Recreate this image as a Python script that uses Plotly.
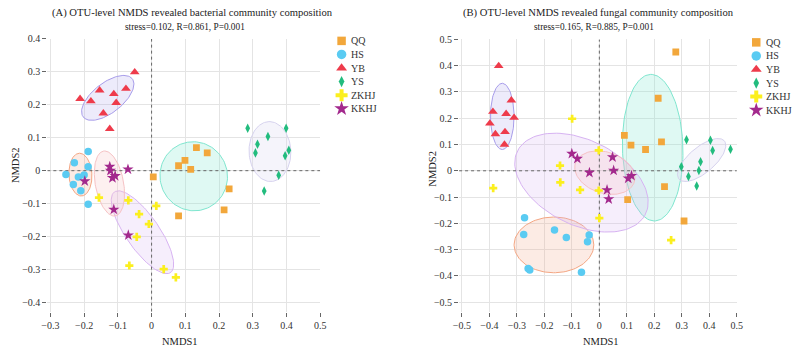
import numpy as np
import plotly.graph_objects as go

W, H = 798, 348
FONT = "Liberation Serif, Times New Roman, serif"

GROUPS = ["QQ", "HS", "YB", "YS", "ZKHJ", "KKHJ"]
SYMBOLS = ["square", "circle", "triangle-up", "diamond-tall", "cross", "star"]
COLORS = ["#F2A73B", "#5ACBF2", "#EE3B4B", "#22BC7E", "#FBEF1E", "#A3298D"]
PLOT_SIZES = [6.8, 7.5, 8.5, 6.8, 6.8, 8.5]
LEGEND_SIZES = [8.5, 9.5, 9.5, 8, 10, 11]
ELL_LINE = ["#7FE6CF", "#F3A683", "#A79CEA", "#D6D2EE", "#D7B3F2", "#F6C2C4"]
ELL_FILL = ["rgba(127,230,207,0.25)", "rgba(243,166,131,0.22)", "rgba(167,156,234,0.20)",
            "rgba(214,210,238,0.25)", "rgba(215,179,242,0.22)", "rgba(246,194,196,0.25)"]

# ---------------- Panel A: bacterial ----------------
A_XRANGE = [-0.309, 0.5]
A_YRANGE = [-0.428, 0.4]
A_QQ_X = [0.005, 0.08, 0.099, 0.116, 0.133, 0.165, 0.23, 0.215, 0.08]
A_QQ_Y = [-0.019, 0.015, 0.031, 0.004, 0.07, 0.054, -0.055, -0.119, -0.137]
A_HS_X = [-0.188, -0.229, -0.188, -0.254, -0.217, -0.2, -0.232, -0.21, -0.188]
A_HS_Y = [0.058, 0.024, 0.012, -0.012, -0.019, -0.013, -0.042, -0.061, -0.102]
A_YB_X = [-0.05, -0.212, -0.18, -0.154, -0.112, -0.076, -0.105, -0.143, -0.124]
A_YB_Y = [0.299, 0.218, 0.211, 0.244, 0.233, 0.249, 0.206, 0.174, 0.127]
A_YS_X = [0.285, 0.399, 0.345, 0.314, 0.308, 0.407, 0.396, 0.377, 0.334]
A_YS_Y = [0.129, 0.129, 0.104, 0.08, 0.054, 0.062, 0.045, -0.014, -0.062]
A_ZKHJ_X = [-0.156, -0.069, 0.014, -0.037, -0.008, -0.044, -0.066, 0.036, 0.072]
A_ZKHJ_Y = [-0.082, -0.09, -0.107, -0.132, -0.162, -0.201, -0.288, -0.299, -0.324]
A_KKHJ_X = [-0.124, -0.122, -0.116, -0.108, -0.07, -0.198, -0.112, -0.069]
A_KKHJ_Y = [0.012, 0.0, -0.022, -0.016, 0.004, -0.032, -0.118, -0.196]

# ellipse parameters (group order): centre, semi-axes, rotation (deg)
A_ELL_CX = [0.125, -0.211, -0.130, 0.351, -0.027, -0.125]
A_ELL_CY = [-0.017, -0.012, 0.221, 0.058, -0.187, -0.039]
A_ELL_A = [0.105, 0.065, 0.093, 0.091, 0.148, 0.100]
A_ELL_B = [0.100, 0.034, 0.045, 0.062, 0.050, 0.042]
A_ELL_ANG = [100, 93, 39, 92, 124, 100]

# ---------------- Panel B: fungal ----------------
B_XRANGE = [-0.51, 0.5]
B_YRANGE = [-0.536, 0.5]
B_QQ_X = [0.278, 0.214, 0.091, 0.115, 0.226, 0.168, 0.237, 0.103, 0.308]
B_QQ_Y = [0.452, 0.276, 0.135, 0.098, 0.11, 0.081, -0.06, -0.11, -0.191]
B_HS_X = [-0.272, -0.275, -0.163, -0.12, -0.037, -0.043, -0.259, -0.253, -0.065]
B_HS_Y = [-0.179, -0.242, -0.225, -0.254, -0.244, -0.27, -0.372, -0.378, -0.386]
B_YB_X = [-0.366, -0.32, -0.387, -0.339, -0.31, -0.398, -0.343, -0.378, -0.345]
B_YB_Y = [0.399, 0.268, 0.225, 0.217, 0.202, 0.18, 0.148, 0.14, 0.1]
B_YS_X = [0.317, 0.404, 0.412, 0.477, 0.368, 0.298, 0.362, 0.324, 0.354]
B_YS_Y = [0.118, 0.116, 0.077, 0.082, 0.034, 0.015, 0.001, -0.022, -0.058]
B_ZKHJ_X = [-0.099, -0.002, -0.143, -0.142, -0.07, -0.002, -0.386, 0.0, 0.261]
B_ZKHJ_Y = [0.198, 0.078, 0.02, -0.044, -0.073, -0.075, -0.066, -0.18, -0.264]
B_KKHJ_X = [-0.1, -0.08, -0.036, 0.048, 0.052, 0.105, 0.117, 0.028, 0.034]
B_KKHJ_Y = [0.065, 0.046, -0.007, 0.052, 0.001, -0.029, -0.019, -0.073, -0.108]

B_ELL_CX = [0.194, -0.165, -0.353, 0.372, -0.065, 0.020]
B_ELL_CY = [0.088, -0.282, 0.207, 0.041, -0.045, -0.007]
B_ELL_A = [0.279, 0.145, 0.126, 0.110, 0.262, 0.113]
B_ELL_B = [0.110, 0.106, 0.043, 0.048, 0.160, 0.078]
B_ELL_ANG = [91.5, 0, 90, 42, -28.5, -20]

TITLE_A = "(A) OTU-level NMDS revealed bacterial community composition"
SUB_A = "stress=0.102, R=0.861, P=0.001"
TITLE_B = "(B) OTU-level NMDS revealed fungal community composition"
SUB_B = "stress=0.165, R=0.885, P=0.001"

A_POINTS = [(A_QQ_X, A_QQ_Y), (A_HS_X, A_HS_Y), (A_YB_X, A_YB_Y),
            (A_YS_X, A_YS_Y), (A_ZKHJ_X, A_ZKHJ_Y), (A_KKHJ_X, A_KKHJ_Y)]
B_POINTS = [(B_QQ_X, B_QQ_Y), (B_HS_X, B_HS_Y), (B_YB_X, B_YB_Y),
            (B_YS_X, B_YS_Y), (B_ZKHJ_X, B_ZKHJ_Y), (B_KKHJ_X, B_KKHJ_Y)]


def ellipse(cx, cy, a, b, ang):
    t = np.linspace(0, 2 * np.pi, 120)
    th = np.radians(ang)
    x = cx + a * np.cos(t) * np.cos(th) - b * np.sin(t) * np.sin(th)
    y = cy + a * np.cos(t) * np.sin(th) + b * np.sin(t) * np.cos(th)
    return x, y


def px_x(p):
    return p / W


def px_y(p):
    return 1 - p / H


fig = go.Figure()

panels = [
    ("x", "y", A_POINTS, A_ELL_CX, A_ELL_CY, A_ELL_A, A_ELL_B, A_ELL_ANG, A_XRANGE, A_YRANGE),
    ("x2", "y2", B_POINTS, B_ELL_CX, B_ELL_CY, B_ELL_A, B_ELL_B, B_ELL_ANG, B_XRANGE, B_YRANGE),
]
for xa, ya, pts, ecx, ecy, ea, eb, eang, xr, yr in panels:
    for i in range(len(GROUPS)):
        ex, ey = ellipse(ecx[i], ecy[i], ea[i], eb[i], eang[i])
        fig.add_trace(go.Scatter(x=ex, y=ey, mode="lines", fill="toself",
                                 fillcolor=ELL_FILL[i],
                                 line=dict(color=ELL_LINE[i], width=1),
                                 xaxis=xa, yaxis=ya, showlegend=False, hoverinfo="skip"))
    # dotted reference lines through the origin
    fig.add_trace(go.Scatter(x=[0, 0], y=yr, mode="lines",
                             line=dict(color="#666", width=1, dash="dot"),
                             xaxis=xa, yaxis=ya, showlegend=False, hoverinfo="skip"))
    fig.add_trace(go.Scatter(x=xr, y=[0, 0], mode="lines",
                             line=dict(color="#666", width=1, dash="dot"),
                             xaxis=xa, yaxis=ya, showlegend=False, hoverinfo="skip"))
    for i, g in enumerate(GROUPS):
        fig.add_trace(go.Scatter(x=pts[i][0], y=pts[i][1], mode="markers", name=g,
                                 marker=dict(symbol=SYMBOLS[i], color=COLORS[i],
                                             size=PLOT_SIZES[i], line=dict(width=0)),
                                 xaxis=xa, yaxis=ya, showlegend=False))

# custom legends (pixel-space helper axis)
LEG_A_X, LEG_A_Y0 = 340.7, 35.5
LEG_B_X, LEG_B_Y0 = 761.7, 37.0
LEG_STEP = 13.8
annotations = []
for lx, ly0 in [(LEG_A_X, LEG_A_Y0), (LEG_B_X, LEG_B_Y0)]:
    for i, g in enumerate(GROUPS):
        yy = ly0 + i * LEG_STEP
        fig.add_trace(go.Scatter(x=[lx], y=[yy], mode="markers",
                                 marker=dict(symbol=SYMBOLS[i], color=COLORS[i],
                                             size=LEGEND_SIZES[i], line=dict(width=0)),
                                 xaxis="x3", yaxis="y3", showlegend=False, hoverinfo="skip"))
        annotations.append(dict(x=lx + 7.5, y=yy, xref="x3", yref="y3", text=g,
                                showarrow=False, xanchor="left", yanchor="middle",
                                font=dict(family=FONT, size=10, color="#333")))

# titles
for txt, cxp, cyp, fs in [(TITLE_A, 189, 7.5, 10.6), (SUB_A, 182, 21, 9.3),
                          (TITLE_B, 601.5, 7.5, 10.6), (SUB_B, 597, 21, 9.3)]:
    annotations.append(dict(x=px_x(cxp), y=px_y(cyp), xref="paper", yref="paper", text=txt,
                            showarrow=False, xanchor="center", yanchor="middle",
                            font=dict(family=FONT, size=fs, color="#222")))
for cxp in [177, 604]:
    annotations.append(dict(x=px_x(cxp), y=px_y(341), xref="paper", yref="paper", text="NMDS1",
                            showarrow=False, xanchor="center", yanchor="middle",
                            font=dict(family=FONT, size=10.5, color="#222")))
for cxp, cyp in [(9, 162), (433, 165)]:
    annotations.append(dict(x=px_x(cxp), y=px_y(cyp), xref="paper", yref="paper", text="NMDS2",
                            showarrow=False, xanchor="center", yanchor="middle", textangle=-90,
                            font=dict(family=FONT, size=10.5, color="#222")))

axis_common = dict(showline=False, zeroline=False, showgrid=True, gridcolor="#E4E4E4",
                   gridwidth=1, ticks="outside", ticklen=4, tickcolor="#666",
                   tickfont=dict(family=FONT, size=10, color="#333"), dtick=0.1, tick0=0,
                   fixedrange=True)

fig.update_layout(
    width=W, height=H, margin=dict(l=0, r=0, t=0, b=0),
    paper_bgcolor="white", plot_bgcolor="rgba(0,0,0,0)", showlegend=False,
    xaxis=dict(domain=[px_x(42), px_x(319)], range=A_XRANGE, anchor="y", **axis_common),
    yaxis=dict(domain=[px_y(311), px_y(33.5)], range=A_YRANGE, anchor="x", **axis_common),
    xaxis2=dict(domain=[px_x(460), px_x(742)], range=B_XRANGE, anchor="y2", **axis_common),
    yaxis2=dict(domain=[px_y(311), px_y(34)], range=B_YRANGE, anchor="x2", **axis_common),
    xaxis3=dict(domain=[0, 1], range=[0, W], visible=False, fixedrange=True, anchor="y3"),
    yaxis3=dict(domain=[0, 1], range=[H, 0], visible=False, fixedrange=True, anchor="x3"),
    annotations=annotations,
)

fig.write_html("out.html")
